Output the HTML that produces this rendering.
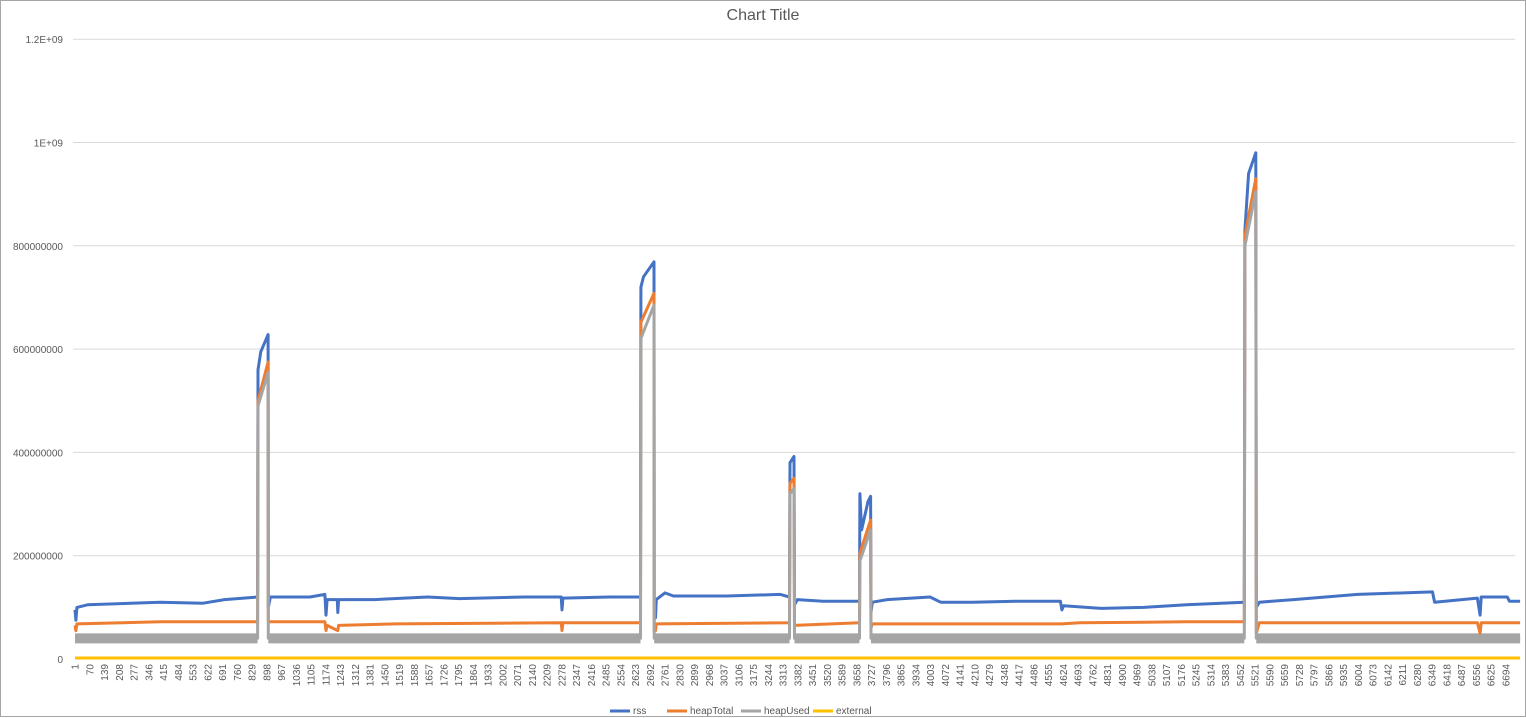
<!DOCTYPE html>
<html><head><meta charset="utf-8"><style>
body{margin:0;background:#fff;font-family:"Liberation Sans",sans-serif}
svg{display:block}
</style></head><body>
<svg id="c" width="1526" height="718"></svg>
<script>
const rssIdx=[1,5,10,60,400,600,700,855,857,870,904,905,915,1100,1170,1175,1180,1228,1230,1234,1400,1650,1800,2100,2275,2279,2283,2500,2646,2648,2660,2709,2710,2716,2720,2760,2800,3050,3300,3343,3345,3364,3366,3380,3500,3670,3672,3680,3710,3722,3724,3730,3800,4000,4050,4200,4400,4610,4617,4625,4800,5000,5200,5470,5473,5490,5524,5526,5540,5700,6000,6350,6360,6560,6573,6578,6700,6710,6760];
const rssVal=[95,75,100,105,110,108,115,120,560,595,628,100,120,120,125,85,115,115,90,115,115,120,117,120,120,95,118,120,120,720,740,769,110,80,115,128,122,122,125,120,380,392,105,115,112,112,320,250,305,315,90,110,115,120,110,110,112,112,95,103,98,100,105,110,830,940,980,100,110,115,125,130,110,118,85,120,120,112,112];
const htIdx=[1,5,10,400,855,857,904,905,1170,1175,1180,1230,1234,1500,2275,2279,2283,2646,2648,2709,2710,2716,2720,3343,3345,3364,3366,3670,3672,3722,3724,3730,4617,4700,5200,5470,5473,5524,5526,5540,6560,6573,6578,6760];
const htVal=[65,55,68,72,72,500,575,72,72,55,65,55,65,68,70,55,70,70,652,708,55,55,68,70,340,350,65,70,205,269,60,68,68,70,72,72,820,930,50,70,70,50,70,70];
const huIdx=[1,855,857,904,905,2646,2648,2709,2710,3343,3345,3364,3366,3670,3672,3722,3724,5470,5473,5524,5526,6760];
const huVal=[40,40,490,555,40,40,621,685,40,40,320,330,40,40,190,250,40,40,800,905,40,40];
const extIdx=[1,6760];
const extVal=[2,2];
const yTicks=[0,200000000,400000000,600000000,800000000,1000000000,1200000000];
const yLabels=["0","200000000","400000000","600000000","800000000","1E+09","1.2E+09"];
const N=6760,X0=75,DX=(1506-75)/6693,Y0=659,YS=103.3/200;
const xs=i=>X0+(i-1)*DX, ys=m=>Y0-m*YS;
const NS="http://www.w3.org/2000/svg",svg=document.getElementById('c');
function mk(t,a,p){const e=document.createElementNS(NS,t);for(const k in a)e.setAttribute(k,a[k]);(p||svg).appendChild(e);return e;}
mk('rect',{x:0.5,y:0.5,width:1525,height:716,fill:'#fff',stroke:'#a6a6a6'});
const t=mk('text',{x:763,y:20,'text-anchor':'middle','font-size':16,fill:'#595959'});t.textContent='Chart Title';


yTicks.forEach((v,k)=>{const y=ys(v/1e6);
 if(k>0){const g=mk('line',{x1:73,x2:1515,y1:y,y2:y,stroke:'#d9d9d9'});
 
 }
 const l=mk('text',{x:63,y:y+4,'text-anchor':'end','font-size':10,fill:'#595959'});l.textContent=yLabels[k];
 
 });
for(let i=1;i<=6694;i+=69){const x=xs(i);
 const l=mk('text',{transform:`translate(${x+3.5},664) rotate(-90)`,'text-anchor':'end','font-size':10,fill:'#595959'});l.textContent=i;
 
 }
function pts(I,V){return I.map((i,k)=>xs(i).toFixed(1)+','+ys(V[k]).toFixed(1)).join(' ');}
// heapUsed noise band on baseline segments
let seg=[];const segs=[];
huIdx.forEach((i,k)=>{if(huVal[k]<100)seg.push([i,huVal[k]]);else{if(seg.length>1)segs.push(seg);seg=[];}});
if(seg.length>1)segs.push(seg);
segs.forEach(s=>{const b=mk('polyline',{points:s.map(p=>xs(p[0])+','+ys(p[1])).join(' '),fill:'none',stroke:'#a5a5a5','stroke-width':10});
 
 });
const series=[['rss',rssIdx,rssVal,'#4472c4'],['heaptotal',htIdx,htVal,'#ed7d31'],['heapused',huIdx,huVal,'#a5a5a5'],['external',extIdx,extVal,'#ffc000']];
series.forEach(s=>{const p=mk('polyline',{points:pts(s[1],s[2]),fill:'none',stroke:s[3],'stroke-width':3,'stroke-linejoin':'round'});
 
 });
const leg=[['rss',610,'#4472c4'],['heapTotal',667,'#ed7d31'],['heapUsed',741,'#a5a5a5'],['external',813,'#ffc000']];
leg.forEach(l=>{const g=mk('g',{});
 
 
 mk('line',{x1:l[1],x2:l[1]+20,y1:711,y2:711,stroke:l[2],'stroke-width':3},g);
 const tx=mk('text',{x:l[1]+23,y:714,'font-size':10,fill:'#595959'},g);tx.textContent=l[0];});
</script>
</body></html>
